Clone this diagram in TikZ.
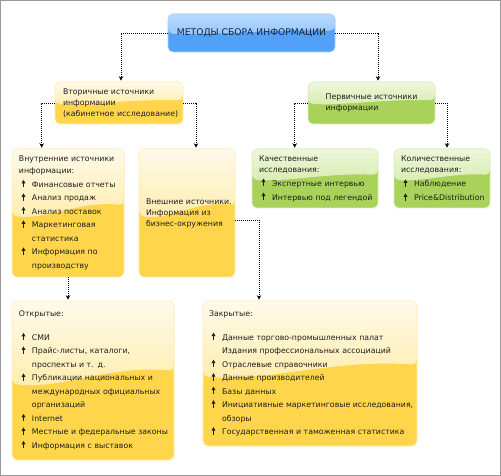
\documentclass[tikz,border=0pt]{standalone}
\usepackage{fontspec}
\setmainfont{DejaVu Sans}
\usetikzlibrary{arrows.meta,calc}
\definecolor{ytop}{HTML}{FFFAEA}
\definecolor{ymid}{HTML}{FFE27C}
\definecolor{ybot}{HTML}{FFD54C}
\definecolor{yedge}{HTML}{FFEDB5}
\definecolor{gtop}{HTML}{EEF7DC}
\definecolor{gmid}{HTML}{C8E38E}
\definecolor{gbot}{HTML}{A8D25A}
\definecolor{gedge}{HTML}{DDEDBE}
\definecolor{btop}{HTML}{B8DAFF}
\definecolor{bmid}{HTML}{78B8FB}
\definecolor{bbot}{HTML}{52A0F7}
\definecolor{bedge}{HTML}{A8D2FF}
\definecolor{txt}{HTML}{1E1E1E}
\definecolor{toptxt}{HTML}{14223A}
\newcommand\upmark{\tikz[baseline=0pt, sharp corners]{\fill[txt] (1.3pt,0pt) rectangle (2.7pt,4.2pt); \fill[txt] (0pt,4pt) -- (4pt,4pt) -- (2pt,7.4pt) -- cycle;}}
\newcommand\li[1]{\mbox{\hspace{2.5pt}\makebox[10.5pt][l]{\upmark}#1}}
\newcommand\lc[1]{\mbox{\hspace{13pt}#1}}
\tikzset{
  gloss/.style n args={4}{fill=#3, draw=#4, line width=0.6pt, rounded corners=5pt,
    inner ysep=0pt, text=txt,
    path picture={
      \shade[top color=#1, bottom color=#2]
        let \p1=(path picture bounding box.north west),
            \p2=(path picture bounding box.south east) in
        (\x1,\y1) -- (\x2,\y1) -- (\x2,{\y1+0.44*(\y2-\y1)})
        .. controls ({\x1+0.6*(\x2-\x1)},{\y1+0.40*(\y2-\y1)})
        and ({\x1+0.3*(\x2-\x1)},{\y1+0.56*(\y2-\y1)})
        .. (\x1,{\y1+0.52*(\y2-\y1)}) -- cycle;
    }},
  ybox/.style={gloss={ytop}{ymid}{ybot}{yedge}},
  gbox/.style={gloss={gtop}{gmid}{gbot}{gedge}},
  bbox/.style={gloss={btop}{bmid}{bbot}{bedge}},
  small/.style={font=\fontsize{7.8}{11}\selectfont},
  list/.style={font=\fontsize{7.8}{13.5}\selectfont},
  conn/.style={dash pattern=on 1pt off 1pt, line width=0.9pt, shorten >=1pt,
    -{Stealth[length=4.5pt,width=4.5pt]}}
}
\begin{document}
\begin{tikzpicture}[x=1pt,y=-1pt]
\useasboundingbox (0,0) rectangle (501,476);
\fill[white] (0,0) rectangle (501,476);
\draw[black!40, line width=1pt] (0.5,0.5) rectangle (500.5,475.5);

\node[bbox, minimum width=167pt, minimum height=38pt, text=toptxt,
      font=\fontsize{9.2}{11}\selectfont] (top) at (251.5,33) {МЕТОДЫ СБОРА ИНФОРМАЦИИ};

\node[ybox, small, text width=112pt, inner xsep=8pt, minimum height=42pt, align=left] (sec) at (119,103)
  {\mbox{Вторичные источники}\\\mbox{информации}\\\mbox{(кабинетное исследование)}};

\node[gbox, small, minimum width=127pt, minimum height=42pt, align=left] (prim) at (371.5,103)
  {Первичные источники\\информации};

\node[ybox, list, text width=98pt, inner xsep=7pt, minimum height=128pt, align=left] (int) at (68,213)
  {\mbox{Внутренние источники}\\[-1.5pt]
   \mbox{информации:}\\
   \li{Финансовые отчеты}\\
   \li{Анализ продаж}\\
   \li{Анализ поставок}\\
   \li{Маркетинговая}\\
   \lc{статистика}\\
   \li{Информация по}\\
   \lc{производству}};

\node[ybox, small, text width=82pt, inner xsep=7pt, minimum height=128pt, align=left] (ext) at (187,213)
  {\mbox{Внешние источники.}\\\mbox{Информация из}\\\mbox{бизнес-окружения}};

\node[gbox, font=\fontsize{7.8}{14}\selectfont, text width=112pt, inner xsep=7pt, minimum height=59pt, align=left] (qual) at (315,178.5)
  {\mbox{Качественные}\\[-3pt]
   \mbox{исследования:}\\
   \li{Экспертные интервью}\\
   \li{Интервью под легендой}};

\node[gbox, font=\fontsize{7.8}{14}\selectfont, text width=82pt, inner xsep=7pt, minimum height=59pt, align=left] (quant) at (442,178.5)
  {\mbox{Количественные}\\[-3pt]
   \mbox{исследования:}\\
   \li{Наблюдение}\\
   \li{Price\&Distribution}};

\node[ybox, list, text width=148pt, inner xsep=7pt, minimum height=159pt, align=left] (open) at (93,380.5)
  {\mbox{Открытые:}\\[10pt]
   \li{СМИ}\\
   \li{Прайс-листы, каталоги,}\\
   \lc{проспекты и т. д.}\\
   \li{Публикации национальных и}\\
   \lc{международных официальных}\\
   \lc{организаций}\\
   \li{Internet}\\
   \li{Местные и федеральные законы}\\
   \li{Информация с выставок}};

\node[ybox, list, text width=202pt, inner xsep=6pt, minimum height=145pt, align=left] (closed) at (310,373.5)
  {\mbox{Закрытые:}\\[10pt]
   \li{Данные торгово-промышленных палат}\\
   \lc{Издания профессиональных ассоциаций}\\
   \li{Отраслевые справочники}\\
   \li{Данные производителей}\\
   \li{Базы данных}\\
   \li{Инициативные маркетинговые исследования,}\\
   \lc{обзоры}\\
   \li{Государственная и таможенная статистика}};

\draw[conn] (top.west) -| ([xshift=2pt]sec.north);
\draw[conn] (top.east) -| ([xshift=6.5pt]prim.north);
\draw[conn] (sec.west) -| ([xshift=30pt]int.north west);
\draw[conn] (sec.east) -| ([xshift=9pt]ext.north);
\draw[conn] (prim.west) -| ([xshift=43pt]qual.north west);
\draw[conn] (prim.east) -| ([xshift=5pt]quant.north);
\draw[conn] (int.south) -- (int.south |- open.north);
\draw[conn] ([yshift=-7pt]ext.east) -| ([xshift=-51pt]closed.north);
\end{tikzpicture}
\end{document}
